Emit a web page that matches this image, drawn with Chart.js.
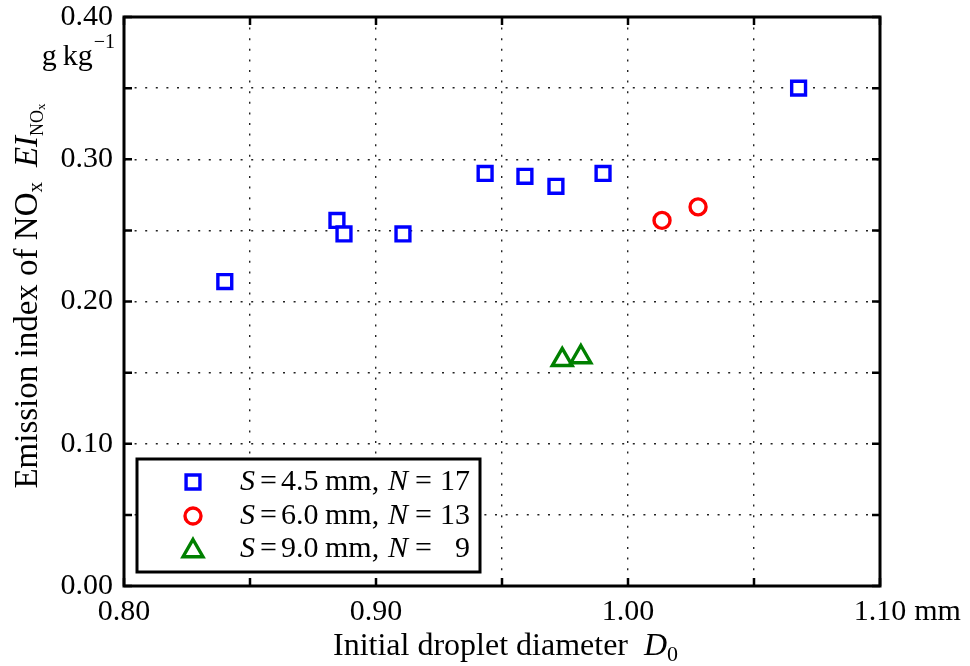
<!DOCTYPE html>
<html>
<head>
<meta charset="utf-8">
<script src="https://cdn.jsdelivr.net/npm/chart.js@4.4.0/dist/chart.umd.min.js"></script>
<style>
  html, body { margin: 0; padding: 0; background: #fff; }
  #wrap { width: 970px; height: 666px; }
</style>
</head>
<body>
<div id="wrap"><canvas id="chart" width="970" height="666"></canvas></div>
<script>
// ── Données ──────────────────────────────────────────────────────────────────
// S = 4.5 mm, N = 17
var d0S45 = [0.840, 0.8845, 0.8873, 0.9107, 0.9433, 0.9591, 0.9714, 0.9901, 1.0677];
var eiS45 = [0.214, 0.257, 0.2475, 0.2475, 0.290, 0.288, 0.281, 0.290, 0.350];
// S = 6.0 mm, N = 13
var d0S60 = [1.0135, 1.0278];
var eiS60 = [0.257, 0.2665];
// S = 9.0 mm, N = 9
var d0S90 = [0.9739, 0.9813];
var eiS90 = [0.159, 0.161];

var legendLabels = [
    { s: '4.5', n: '17' },
    { s: '6.0', n: '13' },
    { s: '9.0', n: '9' }
];
var xTickLabels = ['0.80', '0.90', '1.00', '1.10'];
var yTickLabels = ['0.00', '0.10', '0.20', '0.30', '0.40'];

var SERIF = "'Liberation Serif', 'Times New Roman', serif";

function pts(xs, ys) {
    return xs.map(function (x, i) { return { x: x, y: ys[i] }; });
}

function labelFor(list, value) {
    var k = Math.round(value * 100);
    if (k % 10 !== 0) return '';
    var s = (k / 100).toFixed(2);
    return list.indexOf(s) >= 0 ? s : '';
}

// ── Styles des séries ────────────────────────────────────────────────────────
var styles = [
    { color: '#0000ff', pointStyle: 'rect',     radius: 9.8,  borderWidth: 3.4 },
    { color: '#ff0000', pointStyle: 'circle',   radius: 8.0,  borderWidth: 3.4 },
    { color: '#008000', pointStyle: 'triangle', radius: 11.5, borderWidth: 3.4 }
];

function ds(data, st) {
    return {
        data: data,
        pointStyle: st.pointStyle,
        pointRadius: st.radius,
        pointHoverRadius: st.radius,
        pointBorderWidth: st.borderWidth,
        pointBorderColor: st.color,
        pointBackgroundColor: '#ffffff',
        showLine: false
    };
}

// ── Texte en plusieurs morceaux (italique, indices) ─────────────────────────
function drawRuns(ctx, runs, x, y) {
    runs.forEach(function (r) {
        ctx.font = r.font;
        ctx.fillText(r.t, x, y + (r.dy || 0));
        x += ctx.measureText(r.t).width + (r.gap || 0);
    });
    return x;
}

function runsWidth(ctx, runs) {
    var w = 0;
    runs.forEach(function (r) {
        ctx.font = r.font;
        w += ctx.measureText(r.t).width + (r.gap || 0);
    });
    return w;
}

// ── Plugin : légende, cadre, graduations, titres ────────────────────────────
var decor = {
    id: 'decor',
    afterDatasetsDraw: function (chart) {
        var ctx = chart.ctx;
        ctx.save();
        // boîte de légende
        ctx.fillStyle = '#fff';
        ctx.fillRect(137, 459, 343, 113);
        ctx.strokeStyle = '#000';
        ctx.lineWidth = 3;
        ctx.strokeRect(137, 459, 343, 113);

        var rows = [482, 516, 549];
        var reg = '30px ' + SERIF, ita = 'italic 30px ' + SERIF;
        legendLabels.forEach(function (lab, i) {
            var st = styles[i];
            ctx.strokeStyle = st.color;
            ctx.fillStyle = '#fff';
            ctx.lineWidth = st.borderWidth;
            Chart.helpers.drawPoint(ctx, {
                pointStyle: st.pointStyle, rotation: 0,
                radius: st.radius, borderWidth: st.borderWidth
            }, 193, rows[i] + (st.pointStyle === 'triangle' ? 2 : 0));

            var y = rows[i];
            ctx.fillStyle = '#000';
            ctx.textBaseline = 'middle';
            ctx.textAlign = 'left';
            ctx.font = ita; ctx.fillText('S', 240, y);
            ctx.font = reg; ctx.fillText('=', 260, y);
            ctx.fillText(lab.s, 281, y);
            ctx.fillText('mm,', 325, y);
            ctx.font = ita; ctx.fillText('N', 388, y);
            ctx.font = reg; ctx.fillText('=', 415, y);
            ctx.textAlign = 'right';
            ctx.fillText(lab.n, 470, y);
        });
        ctx.restore();
    },
    afterDraw: function (chart) {
        var ctx = chart.ctx;
        var a = chart.chartArea;
        var xs = chart.scales.x, ys = chart.scales.y;
        ctx.save();

        // graduations intérieures
        ctx.strokeStyle = '#000';
        ctx.lineWidth = 2.5;
        ctx.beginPath();
        xs.ticks.forEach(function (t) {
            var px = xs.getPixelForValue(t.value);
            ctx.moveTo(px, a.bottom); ctx.lineTo(px, a.bottom - 8);
            ctx.moveTo(px, a.top);    ctx.lineTo(px, a.top + 8);
        });
        ys.ticks.forEach(function (t) {
            var py = ys.getPixelForValue(t.value);
            ctx.moveTo(a.left, py);  ctx.lineTo(a.left + 8, py);
            ctx.moveTo(a.right, py); ctx.lineTo(a.right - 8, py);
        });
        ctx.stroke();

        // cadre
        ctx.lineWidth = 3;
        ctx.strokeRect(a.left, a.top, a.right - a.left, a.bottom - a.top);

        ctx.fillStyle = '#000';

        // unité x : « mm » après 1.10
        ctx.font = '30px ' + SERIF;
        ctx.textBaseline = 'middle';
        ctx.textAlign = 'left';
        var p110 = xs.getPixelForValue(1.1);
        ctx.fillText('mm', p110 + ctx.measureText('1.10').width / 2 + 8, 612);

        // unité y : g kg⁻¹ sous 0.40
        ctx.textBaseline = 'alphabetic';
        ctx.textAlign = 'right';
        ctx.font = '20px ' + SERIF;
        ctx.fillText('\u22121', 115, 48);
        var wSup = ctx.measureText('\u22121').width;
        ctx.font = '30px ' + SERIF;
        ctx.fillText('g\u2009kg', 115 - wSup - 1, 65);

        // titre x
        ctx.textAlign = 'left';
        drawRuns(ctx, [
            { t: 'Initial droplet diameter  ', font: '32px ' + SERIF },
            { t: 'D', font: 'italic 32px ' + SERIF },
            { t: '0', font: '22px ' + SERIF, dy: 6 }
        ], 333, 655);

        // titre y
        var yRuns = [
            { t: 'Emission index of NO', font: '33px ' + SERIF },
            { t: 'x', font: '21px ' + SERIF, dy: 5, gap: 15 },
            { t: 'EI', font: 'italic 33px ' + SERIF },
            { t: 'NO', font: '18px ' + SERIF, dy: 6 },
            { t: 'x', font: '13px ' + SERIF, dy: 8 }
        ];
        ctx.translate(37, 296);
        ctx.rotate(-Math.PI / 2);
        drawRuns(ctx, yRuns, -runsWidth(ctx, yRuns) / 2, 0);

        ctx.restore();
    }
};

// ── Graphique ────────────────────────────────────────────────────────────────
var gridCommon = {
    color: '#222',
    lineWidth: 1.4,
    drawTicks: false
};

new Chart(document.getElementById('chart').getContext('2d'), {
    type: 'scatter',
    data: {
        datasets: [
            ds(pts(d0S45, eiS45), styles[0]),
            ds(pts(d0S60, eiS60), styles[1]),
            ds(pts(d0S90, eiS90), styles[2])
        ]
    },
    options: {
        responsive: false,
        animation: false,
        devicePixelRatio: 1,
        layout: { padding: { left: 0, top: 17, right: 90, bottom: 0 } },
        plugins: {
            legend: { display: false },
            tooltip: { enabled: false }
        },
        scales: {
            x: {
                type: 'linear',
                min: 0.8,
                max: 1.1,
                grid: gridCommon,
                border: { display: false, dash: [2, 8.6] },
                ticks: {
                    stepSize: 0.05,
                    autoSkip: false,
                    maxRotation: 0,
                    padding: 8,
                    color: '#000',
                    font: { family: SERIF, size: 30 },
                    callback: function (v) { return labelFor(xTickLabels, v); }
                },
                afterFit: function (s) {
                    s.height = 80;
                    s.paddingLeft = 0; s.paddingRight = 0;
                }
            },
            y: {
                type: 'linear',
                min: 0,
                max: 0.4,
                grid: gridCommon,
                border: { display: false, dash: [2, 8.6] },
                ticks: {
                    stepSize: 0.05,
                    autoSkip: false,
                    padding: 11,
                    color: '#000',
                    font: { family: SERIF, size: 30 },
                    callback: function (v) { return labelFor(yTickLabels, v); }
                },
                afterFit: function (s) {
                    s.width = 124;
                    s.paddingTop = 0; s.paddingBottom = 0;
                }
            }
        }
    },
    plugins: [decor]
});
</script>
</body>
</html>
